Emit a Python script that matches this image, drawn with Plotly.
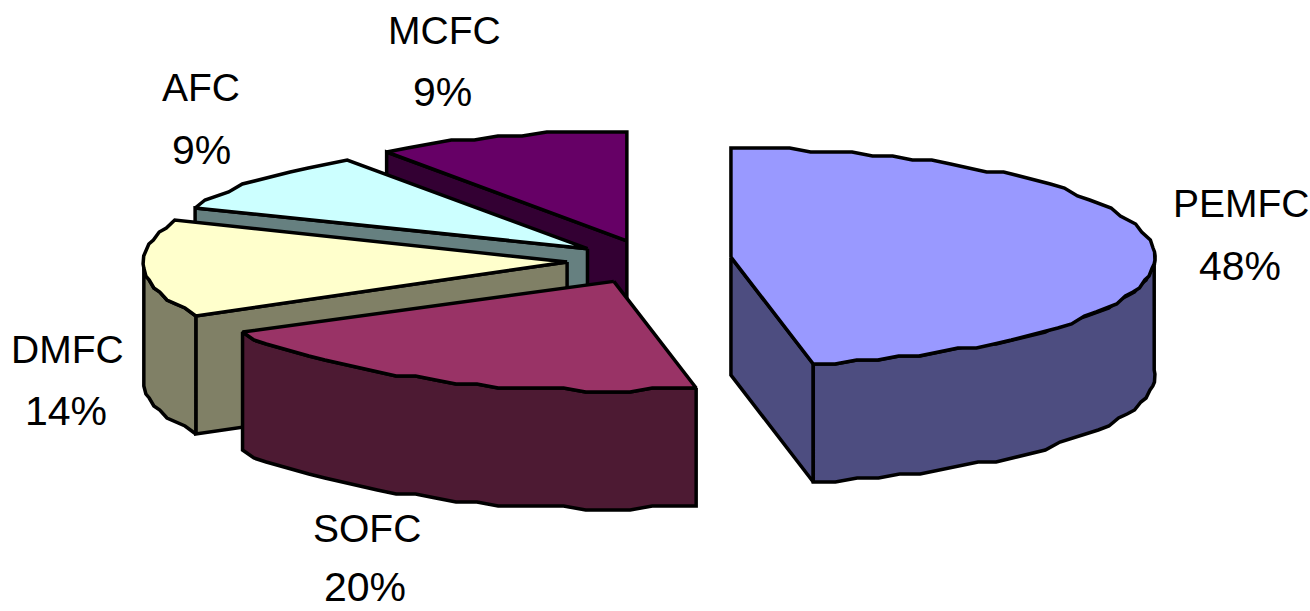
import numpy as np
import plotly.graph_objects as go

# Share of each fuel cell type, clockwise from twelve o'clock
categories = ["PEMFC", "SOFC", "DMFC", "AFC", "MCFC"]
shares = [48, 20, 14, 9, 9]
top_colors = ["#9999FF", "#993366", "#FFFFCC", "#CCFFFF", "#660066"]
side_colors = ["#4D4D80", "#4D1A33", "#808066", "#668080", "#330033"]

# Projection of the tilted, exploded disc onto the page
WIDTH, HEIGHT = 1310, 611
CENTER_X, CENTER_Y = 649.6, 261.0
RADIUS_X, RADIUS_Y = 424.0, 109.0
EXPLODE = 81.5
DEPTH = 118.0
OUTLINE = 3.5
ARC_STEP = 3.0
RIM_GRID = 4.0  # rim heights snap to this grid, giving the coarse stepped edge

# Small per-wedge corrections to the exploded position
apex_nudge = {"PEMFC": (0, -2.5), "SOFC": (3.5, 2), "DMFC": (-1, 1), "AFC": (-1, 1.5), "MCFC": (0, 0)}

# Label centres for name and percentage lines, per category
label_pos = {
    "PEMFC": ((1241, 203), (1240, 266)),
    "SOFC": ((367, 528), (365, 587)),
    "DMFC": ((67, 349), (66, 411)),
    "AFC": ((201, 87), (201, 150)),
    "MCFC": ((444, 30), (442, 92)),
}
NAME_SIZE = 39
PERCENT_SIZE = 41


def warp(theta):
    # Perspective foreshortening of the sweep angle, in degrees
    half = np.abs(np.sin(np.radians(theta) / 2.0))
    return theta - 4.0 * np.sqrt(half)


def rim_point(theta, apex):
    phi = np.radians(warp(theta))
    x = apex[0] + RADIUS_X * np.sin(phi)
    y = apex[1] - RADIUS_Y * np.cos(phi)
    return x, np.round(y / RIM_GRID) * RIM_GRID


def arc(start, end, apex):
    count = max(int(abs(end - start) / ARC_STEP), 1) + 1
    angles = np.linspace(start, end, count)
    xs, ys = rim_point(angles, apex)
    return list(xs), list(ys)


def add_poly(fig, xs, ys, color):
    fig.add_trace(go.Scatter(
        x=xs + xs[:1], y=ys + ys[:1], mode="lines", fill="toself",
        fillcolor=color, line=dict(color="black", width=OUTLINE),
        hoverinfo="skip", showlegend=False,
    ))


def cut_face(fig, theta, apex, color):
    px, py = rim_point(np.array(theta), apex)
    px, py = float(px), float(py)
    add_poly(fig,
             [apex[0], px, px, apex[0]],
             [apex[1], py, py + DEPTH, apex[1] + DEPTH],
             color)


fig = go.Figure()

total = sum(shares)
ends = np.cumsum(shares) / total * 360.0
starts = np.concatenate(([0.0], ends[:-1]))

# Painted back to front: the small rear wedges first, the front wedges last
for idx in [4, 3, 2, 1, 0]:
    start, end = float(starts[idx]), float(ends[idx])
    mid = np.radians((start + end) / 2.0)
    nudge = apex_nudge[categories[idx]]
    apex = (CENTER_X + EXPLODE * np.sin(mid) + nudge[0],
            CENTER_Y - EXPLODE * RADIUS_Y / RADIUS_X * np.cos(mid) + nudge[1])
    side = side_colors[idx]

    # Cut faces that turn towards the viewer
    if np.sin(np.radians(start)) < -1e-6:
        cut_face(fig, start, apex, side)
    if np.sin(np.radians(end)) > 1e-6:
        cut_face(fig, end, apex, side)

    # Outer wall, only on the front half of the disc
    lo, hi = max(start, 90.0), min(end, 270.0)
    if hi > lo:
        xs, ys = arc(lo, hi, apex)
        add_poly(fig, xs + xs[::-1], ys + [y + DEPTH for y in ys[::-1]], side)

    # Top surface
    xs, ys = arc(start, end, apex)
    add_poly(fig, [apex[0]] + xs, [apex[1]] + ys, top_colors[idx])

annotations = []
for name, share in zip(categories, shares):
    name_xy, pct_xy = label_pos[name]
    for text, (lx, ly), size in ((name, name_xy, NAME_SIZE), (f"{share}%", pct_xy, PERCENT_SIZE)):
        annotations.append(dict(
            x=lx, y=ly, text=text, showarrow=False,
            xanchor="center", yanchor="middle",
            font=dict(family="Liberation Sans", size=size, color="black"),
        ))

fig.update_layout(
    width=WIDTH, height=HEIGHT,
    margin=dict(l=0, r=0, t=0, b=0),
    paper_bgcolor="white", plot_bgcolor="white",
    xaxis=dict(range=[0, WIDTH], visible=False, fixedrange=True),
    yaxis=dict(range=[HEIGHT, 0], visible=False, fixedrange=True),
    annotations=annotations,
    showlegend=False,
)

fig.write_html("out.html", config=dict(displayModeBar=False))
